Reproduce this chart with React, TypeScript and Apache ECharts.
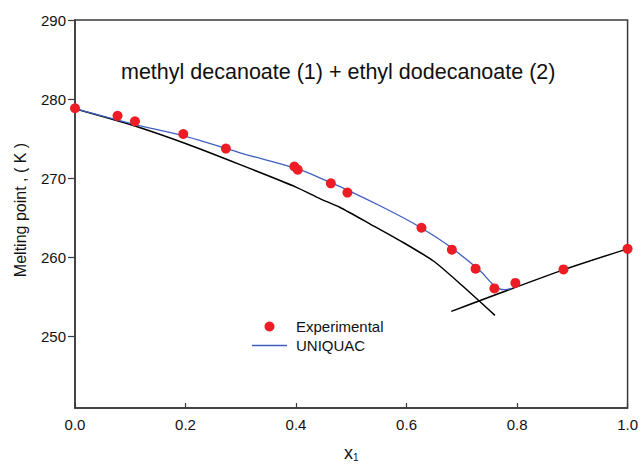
import React, { useEffect, useRef } from "react";
import * as echarts from "echarts";

const expX = [0.0, 0.077, 0.1085, 0.196, 0.273, 0.397, 0.403, 0.463, 0.493, 0.627, 0.682, 0.725, 0.759, 0.797, 0.884, 1.0];
const expY = [278.86, 277.9, 277.2, 275.6, 273.76, 271.5, 271.1, 269.37, 268.2, 263.76, 261.0, 258.6, 256.1, 256.8, 258.5, 261.1];

const uniX = [0, 0.1, 0.2, 0.3, 0.4, 0.46, 0.5, 0.55, 0.6, 0.625, 0.672, 0.732, 0.755, 0.768, 0.778, 0.79];
const uniY = [278.8, 276.95, 275.3, 273.2, 271.25, 269.55, 268.3, 266.6, 264.8, 263.8, 261.7, 258.4, 256.7, 256.05, 255.95, 256.1];

const ideal1X = [0, 0.1, 0.2, 0.3, 0.4, 0.443, 0.479, 0.535, 0.594, 0.65, 0.7, 0.76];
const ideal1Y = [278.8, 276.8, 274.4, 271.7, 268.9, 267.45, 266.35, 264.2, 261.9, 259.5, 256.5, 252.7];

const ideal2X = [0.681, 0.88, 1.0];
const ideal2Y = [253.2, 258.35, 261.1];

const xTicks = [0, 0.2, 0.4, 0.6, 0.8, 1.0];
const yTicks = [250, 260, 270, 280, 290];

const zip = (xs: number[], ys: number[]) => xs.map((x, i) => [x, ys[i]]);

const FONT = "Liberation Sans, Arial, sans-serif";
const BLUE = "#3f5fbf";

export default function App() {
  const ref = useRef<HTMLDivElement>(null);
  useEffect(() => {
    if (!ref.current) return;
    const chart = echarts.init(ref.current, undefined, { renderer: "svg" });
    chart.setOption({
      animation: false,
      backgroundColor: "#ffffff",
      grid: {
        left: 75,
        right: 13,
        top: 20,
        bottom: 60,
        show: true,
        borderColor: "#3a3a3a",
        borderWidth: 1.5,
        backgroundColor: "transparent",
      },
      legend: {
        orient: "vertical",
        left: 247,
        top: 314,
        itemWidth: 35,
        itemHeight: 10,
        itemGap: 4,
        data: [
          { name: "Experimental", icon: "circle" },
          {
            name: "UNIQUAC",
            icon: "path://M0,0L35,0L35,1.3L0,1.3Z",
            itemStyle: { color: BLUE, borderWidth: 0 },
          },
        ],
        textStyle: { fontFamily: FONT, fontSize: 15, color: "#111", padding: [0, 0, 0, 4] },
      },
      xAxis: {
        type: "value",
        min: 0,
        max: 1,
        interval: 0.2,
        name: "{a|x}{b|1}",
        nameLocation: "middle",
        nameGap: 35,
        nameTextStyle: {
          rich: {
            a: { fontFamily: FONT, fontSize: 18, color: "#111" },
            b: { fontFamily: FONT, fontSize: 10, color: "#111", verticalAlign: "bottom", padding: [9, 0, 0, 0] },
          },
        },
        axisLine: { show: true, onZero: false, lineStyle: { color: "#3a3a3a", width: 1.5 } },
        axisTick: { show: true, inside: true, length: 5, lineStyle: { color: "#3a3a3a", width: 1.2 } },
        axisLabel: {
          fontFamily: FONT,
          fontSize: 15,
          color: "#111",
          margin: 9,
          formatter: (v: number) => v.toFixed(1),
          customValues: xTicks,
        },
        splitLine: { show: false },
      },
      yAxis: {
        type: "value",
        min: 241,
        max: 290,
        axisLine: { show: true, onZero: false, lineStyle: { color: "#3a3a3a", width: 1.5 } },
        axisTick: { show: true, inside: false, length: 7, lineStyle: { color: "#3a3a3a", width: 1.2 }, customValues: yTicks },
        axisLabel: { fontFamily: FONT, fontSize: 15, color: "#111", margin: 9, customValues: yTicks },
        splitLine: { show: false },
      },
      graphic: [
        {
          type: "text",
          left: 121,
          top: 61,
          style: {
            text: "methyl decanoate (1) + ethyl dodecanoate (2)",
            fontFamily: FONT,
            fontSize: 21.5,
            fill: "#111",
          },
        },
        {
          type: "text",
          x: 20,
          y: 210,
          rotation: Math.PI / 2,
          style: {
            text: "Melting point , ( K )",
            fontFamily: FONT,
            fontSize: 16,
            fill: "#111",
            align: "center",
            verticalAlign: "middle",
          },
        },
      ],
      series: [
        {
          name: "ideal1",
          type: "line",
          data: zip(ideal1X, ideal1Y),
          showSymbol: false,
          symbol: "none",
          smooth: 0.2,
          lineStyle: { color: "#000", width: 1.5 },
          z: 2,
        },
        {
          name: "ideal2",
          type: "line",
          data: zip(ideal2X, ideal2Y),
          showSymbol: false,
          symbol: "none",
          smooth: 0.3,
          lineStyle: { color: "#000", width: 1.5 },
          z: 2,
        },
        {
          name: "UNIQUAC",
          type: "line",
          data: zip(uniX, uniY),
          showSymbol: false,
          symbol: "none",
          smooth: 0.4,
          lineStyle: { color: BLUE, width: 1.3 },
          itemStyle: { color: BLUE },
          z: 3,
        },
        {
          name: "Experimental",
          type: "scatter",
          data: zip(expX, expY),
          symbol: "circle",
          symbolSize: 10,
          clip: false,
          itemStyle: { color: "#ee1c25", opacity: 1 },
          z: 4,
        },
      ],
    });
    return () => chart.dispose();
  }, []);
  return <div ref={ref} style={{ width: 641, height: 468, position: "absolute", left: 0, top: 0 }} />;
}
